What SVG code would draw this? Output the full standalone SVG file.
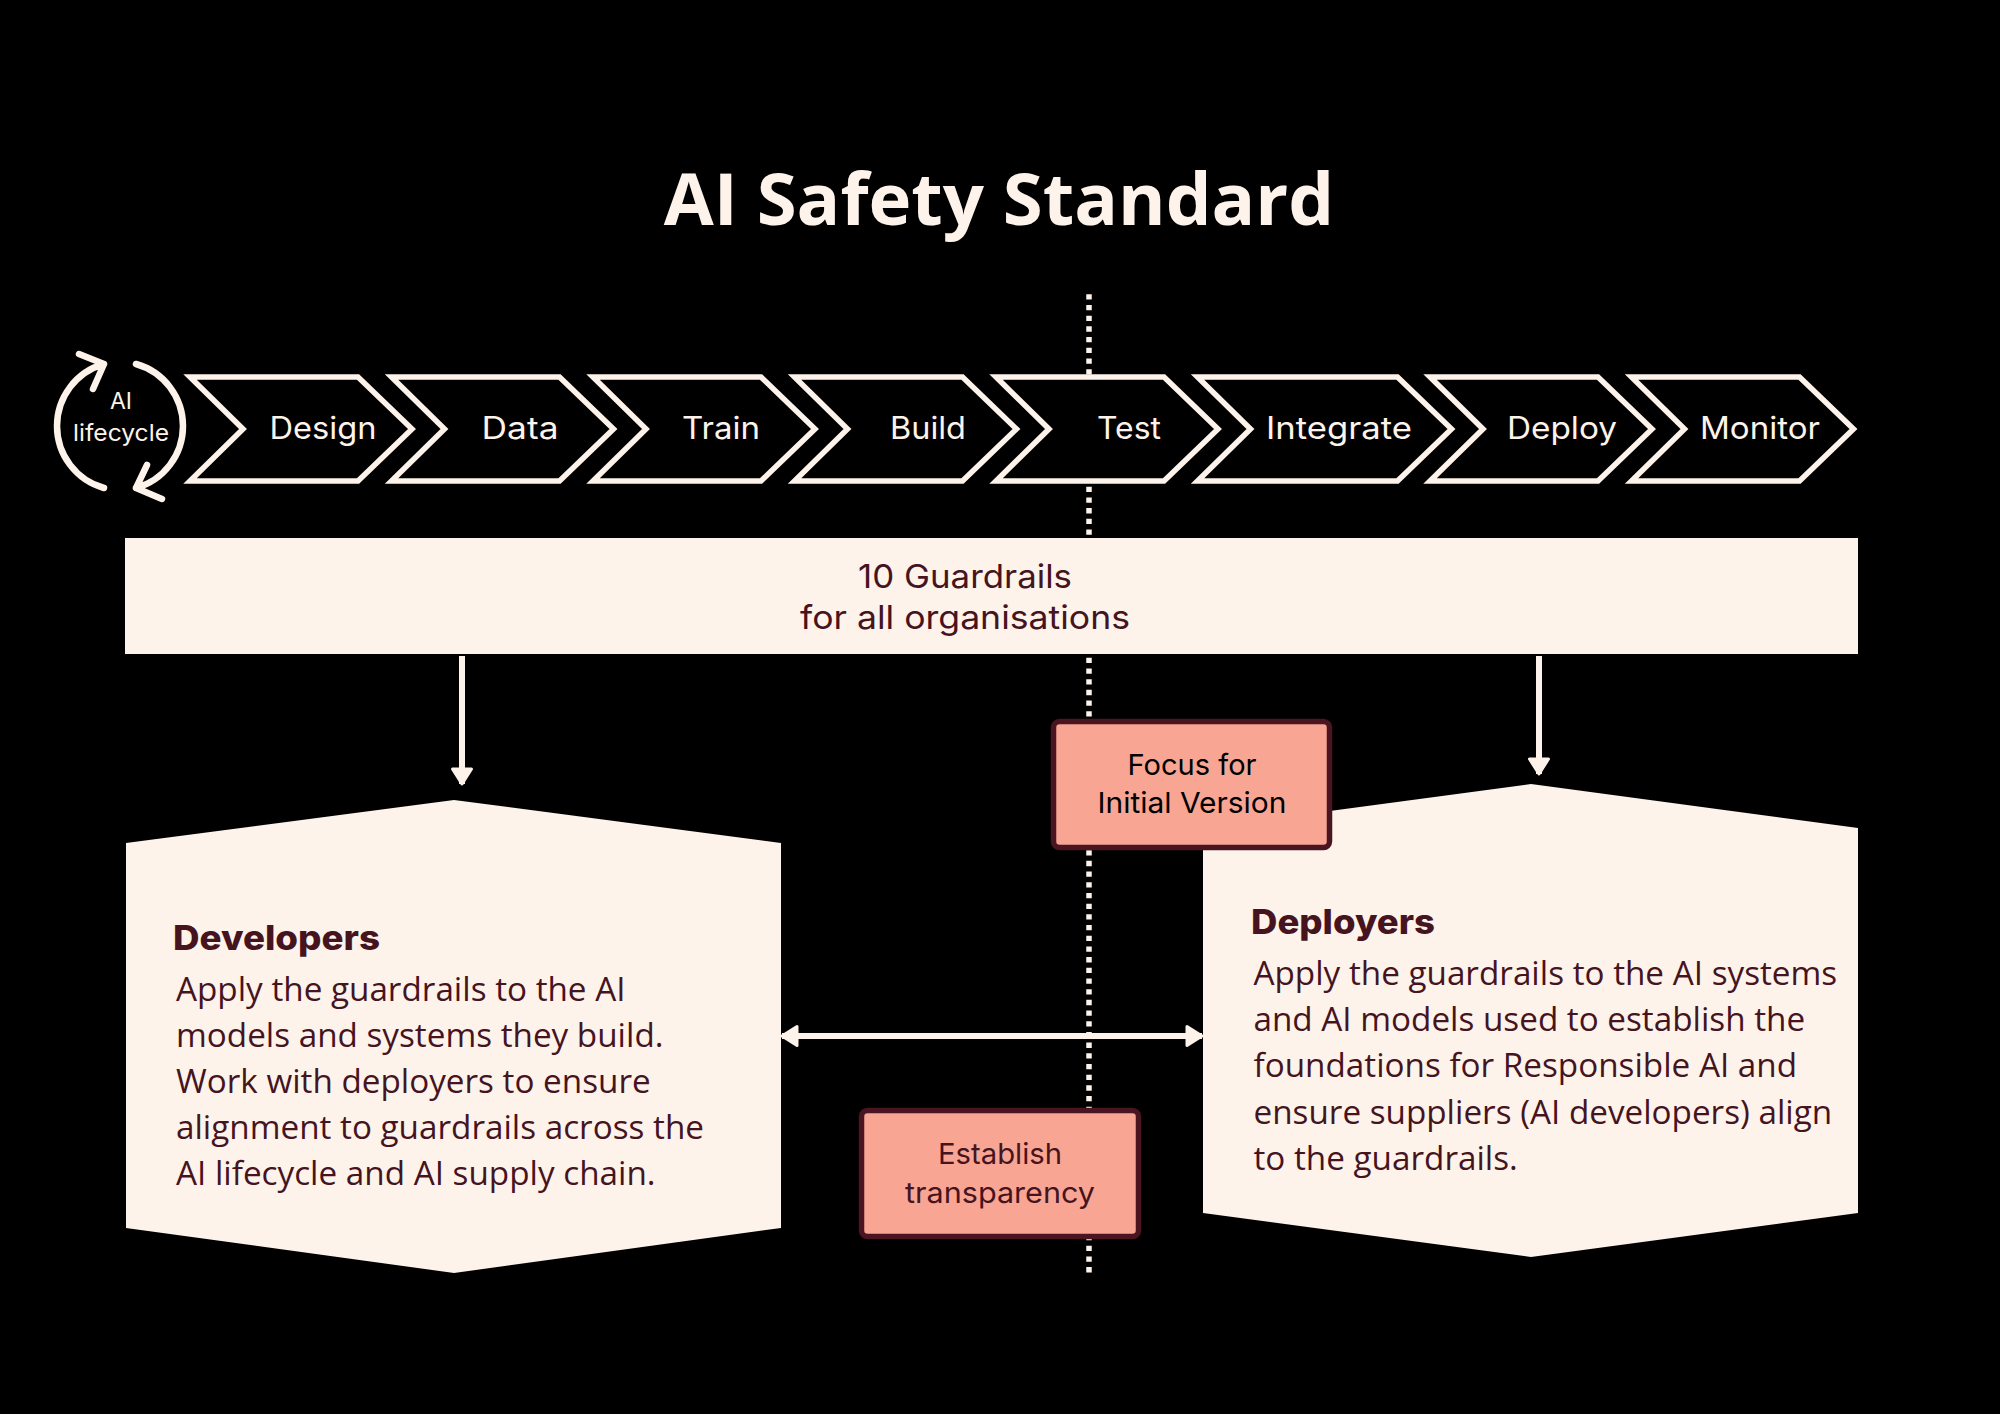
<svg xmlns="http://www.w3.org/2000/svg" width="2000" height="1414" viewBox="0 0 2000 1414">
<style>
.chev{fill:#000;stroke:#fdf3ea;stroke-width:5.5;stroke-linejoin:miter}
.lbl{font-family:Inter,"Liberation Sans",sans-serif;font-size:31px;fill:#fdf3ea;text-anchor:middle}
.small{font-family:Inter,"Liberation Sans",sans-serif;font-size:23px;fill:#fdf3ea;text-anchor:middle}
.bar{font-family:Inter,"Liberation Sans",sans-serif;font-size:33px;fill:#45141f;text-anchor:middle}
.tag{font-family:Inter,"Liberation Sans",sans-serif;font-size:29px;text-anchor:middle}
.tagbox{fill:#f9a594;stroke:#4a1520;stroke-width:5.5}
.panel{fill:#fdf3ea}
.head{font-family:Inter,"Liberation Sans",sans-serif;font-weight:800;font-size:34px;fill:#45141f}
.body{font-family:"Open Sans",sans-serif;font-size:33.25px;fill:#45141f}
.cyc{fill:none;stroke:#fdf3ea;stroke-width:6.5;stroke-linecap:round;stroke-linejoin:round}
.wire{fill:none;stroke:#fdf3ea;stroke-width:6}
</style>
<defs>
<marker id="head" viewBox="-2 0 20 24" refX="15" refY="12" markerUnits="userSpaceOnUse" markerWidth="20" markerHeight="24" orient="auto-start-reverse"><path d="M0,2.500 L15,12 L0,21.500 Z" fill="#fdf3ea" stroke="#fdf3ea" stroke-width="3" stroke-linejoin="round"/></marker>
<path id="chevron" d="M0,0 H168 L222,52 L168,104 H0 L53,52 Z"/>
<path id="chevronWide" d="M0,0 H200 L254,52 L200,104 H0 L53,52 Z"/>
</defs>
<rect width="2000" height="1414" fill="#000"/>
<text id="title" x="999" y="224.500" font-family="'Open Sans',sans-serif" font-weight="700" font-size="72.500" fill="#fdf3ea" text-anchor="middle">AI Safety Standard</text>
<g id="connectors">
<path d="M1089,294.300 V1273" fill="none" stroke="#fdf3ea" stroke-width="5.500" stroke-dasharray="5.300 5.390"/>
<path class="wire" d="M462,656 V784" marker-end="url(#head)"/>
<path class="wire" d="M1539,656 V774" marker-end="url(#head)"/>
<path class="wire" d="M782,1036 H1202" marker-start="url(#head)" marker-end="url(#head)"/>
</g>
<g id="lifecycle">
<path class="cyc" d="M104,488 A64.400,64.400 0 0 1 104,364 M79,354 L104,364 L93,389"/>
<path class="cyc" d="M136,364 A64.400,64.400 0 0 1 136,488 M162,499 L136,488 L147,465"/>
<text class="small" x="121" y="409">AI</text>
<text class="small" x="121" y="441" textLength="96" lengthAdjust="spacingAndGlyphs">lifecycle</text>
</g>
<g id="step-design"><use href="#chevron" class="chev" x="190" y="377"/><text class="lbl" x="323" y="439" textLength="107" lengthAdjust="spacingAndGlyphs">Design</text></g>
<g id="step-data"><use href="#chevron" class="chev" x="391.500" y="377"/><text class="lbl" x="520" y="439" textLength="77" lengthAdjust="spacingAndGlyphs">Data</text></g>
<g id="step-train"><use href="#chevron" class="chev" x="593" y="377"/><text class="lbl" x="721" y="439" textLength="78" lengthAdjust="spacingAndGlyphs">Train</text></g>
<g id="step-build"><use href="#chevron" class="chev" x="794.500" y="377"/><text class="lbl" x="928" y="439" textLength="76" lengthAdjust="spacingAndGlyphs">Build</text></g>
<g id="step-test"><use href="#chevron" class="chev" x="996" y="377"/><text class="lbl" x="1129" y="439" textLength="64" lengthAdjust="spacingAndGlyphs">Test</text></g>
<g id="step-integrate"><use href="#chevronWide" class="chev" x="1197.500" y="377"/><text class="lbl" x="1339" y="439" textLength="146" lengthAdjust="spacingAndGlyphs">Integrate</text></g>
<g id="step-deploy"><use href="#chevron" class="chev" x="1430" y="377"/><text class="lbl" x="1562" y="439" textLength="110" lengthAdjust="spacingAndGlyphs">Deploy</text></g>
<g id="step-monitor"><use href="#chevron" class="chev" x="1631.500" y="377"/><text class="lbl" x="1760" y="439" textLength="120" lengthAdjust="spacingAndGlyphs">Monitor</text></g>
<g id="guardrails">
<rect class="panel" x="125" y="538" width="1733" height="116"/>
<text class="bar" x="965" y="588" textLength="214" lengthAdjust="spacingAndGlyphs">10 Guardrails</text>
<text class="bar" x="965" y="629" textLength="330" lengthAdjust="spacingAndGlyphs">for all organisations</text>
</g>
<g id="developers">
<path class="panel" d="M126,843 L454,800 L781,843 V1228 L454,1273 L126,1228 Z"/>
<text class="head" x="173" y="950" textLength="207" lengthAdjust="spacingAndGlyphs">Developers</text>
<text class="body" x="176" y="1000.500">Apply the guardrails to the AI</text>
<text class="body" x="176" y="1046.500">models and systems they build.</text>
<text class="body" x="176" y="1092.500">Work with deployers to ensure</text>
<text class="body" x="176" y="1139">alignment to guardrails across the</text>
<text class="body" x="176" y="1185">AI lifecycle and AI supply chain.</text>
</g>
<g id="deployers">
<path class="panel" d="M1203,828 L1531,784 L1858,828 V1213 L1531,1257 L1203,1213 Z"/>
<text class="head" x="1251" y="934" textLength="184" lengthAdjust="spacingAndGlyphs">Deployers</text>
<text class="body" x="1253.500" y="985">Apply the guardrails to the AI systems</text>
<text class="body" x="1253.500" y="1031">and AI models used to establish the</text>
<text class="body" x="1253.500" y="1077">foundations for Responsible AI and</text>
<text class="body" x="1253.500" y="1123.500">ensure suppliers (AI developers) align</text>
<text class="body" x="1253.500" y="1169.500">to the guardrails.</text>
</g>
<g id="focus">
<rect class="tagbox" x="1053.500" y="721.500" width="276" height="126" rx="6"/>
<text class="tag" x="1192" y="775" fill="#000" textLength="129" lengthAdjust="spacingAndGlyphs">Focus for</text>
<text class="tag" x="1192" y="813" fill="#000" textLength="189" lengthAdjust="spacingAndGlyphs">Initial Version</text>
</g>
<g id="transparency">
<rect class="tagbox" x="861.500" y="1110.500" width="277" height="126" rx="6"/>
<text class="tag" x="1000" y="1164" fill="#45141f" textLength="124" lengthAdjust="spacingAndGlyphs">Establish</text>
<text class="tag" x="1000" y="1203" fill="#45141f" textLength="190" lengthAdjust="spacingAndGlyphs">transparency</text>
</g>
</svg>
